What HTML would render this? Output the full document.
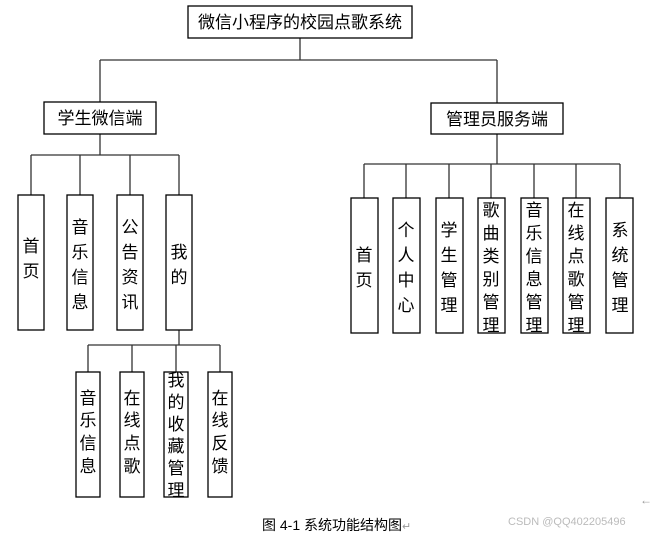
<!DOCTYPE html>
<html><head><meta charset="utf-8"><style>
body{margin:0;background:#fff;}
svg text{font-family:"Liberation Sans","Noto Sans CJK SC",sans-serif;fill:#000;}
</style></head><body>
<svg width="650" height="535" xmlns="http://www.w3.org/2000/svg">
<g stroke="#333" stroke-width="1.3" fill="none">
<line x1="300" y1="38" x2="300" y2="60"/>
<line x1="100" y1="60" x2="497" y2="60"/>
<line x1="100" y1="60" x2="100" y2="102"/>
<line x1="497" y1="60" x2="497" y2="103"/>
<line x1="100" y1="134" x2="100" y2="155"/>
<line x1="31" y1="155" x2="179" y2="155"/>
<line x1="31" y1="155" x2="31" y2="195"/>
<line x1="80" y1="155" x2="80" y2="195"/>
<line x1="130" y1="155" x2="130" y2="195"/>
<line x1="179" y1="155" x2="179" y2="195"/>
<line x1="497" y1="134" x2="497" y2="164"/>
<line x1="364" y1="164" x2="620" y2="164"/>
<line x1="364" y1="164" x2="364" y2="198"/>
<line x1="406" y1="164" x2="406" y2="198"/>
<line x1="449" y1="164" x2="449" y2="198"/>
<line x1="491" y1="164" x2="491" y2="198"/>
<line x1="534" y1="164" x2="534" y2="198"/>
<line x1="576" y1="164" x2="576" y2="198"/>
<line x1="620" y1="164" x2="620" y2="198"/>
<line x1="179" y1="330" x2="179" y2="345"/>
<line x1="88" y1="345" x2="220" y2="345"/>
<line x1="88" y1="345" x2="88" y2="372"/>
<line x1="132" y1="345" x2="132" y2="372"/>
<line x1="176" y1="345" x2="176" y2="372"/>
<line x1="220" y1="345" x2="220" y2="372"/>
</g>
<g stroke="#000" stroke-width="1.3" fill="#fff">
<rect x="188" y="6" width="224" height="32"/>
<rect x="44" y="102" width="112" height="32"/>
<rect x="431" y="103" width="132" height="31"/>
<rect x="18" y="195" width="26" height="135"/>
<rect x="67" y="195" width="26" height="135"/>
<rect x="117" y="195" width="26" height="135"/>
<rect x="166" y="195" width="26" height="135"/>
<rect x="351" y="198" width="27" height="135"/>
<rect x="393" y="198" width="27" height="135"/>
<rect x="436" y="198" width="27" height="135"/>
<rect x="478" y="198" width="27" height="135"/>
<rect x="521" y="198" width="27" height="135"/>
<rect x="563" y="198" width="27" height="135"/>
<rect x="606" y="198" width="27" height="135"/>
<rect x="76" y="372" width="24" height="125"/>
<rect x="120" y="372" width="24" height="125"/>
<rect x="164" y="372" width="24" height="125"/>
<rect x="208" y="372" width="24" height="125"/>
</g>
<g font-size="17" text-anchor="middle">
<text x="300" y="28">微信小程序的校园点歌系统</text>
<text x="100" y="124">学生微信端</text>
<text x="497" y="125">管理员服务端</text>
</g>
<g font-size="17" text-anchor="middle">
<text x="31" y="252">首</text><text x="31" y="277">页</text>
<text x="80" y="233">音</text><text x="80" y="258">乐</text><text x="80" y="283">信</text><text x="80" y="308">息</text>
<text x="130" y="233">公</text><text x="130" y="258">告</text><text x="130" y="283">资</text><text x="130" y="308">讯</text>
<text x="179" y="258">我</text><text x="179" y="283">的</text>
<text x="364" y="261">首</text><text x="364" y="286">页</text>
<text x="406" y="236">个</text><text x="406" y="261">人</text><text x="406" y="286">中</text><text x="406" y="311">心</text>
<text x="449" y="236">学</text><text x="449" y="261">生</text><text x="449" y="286">管</text><text x="449" y="311">理</text>
<text x="491" y="216">歌</text><text x="491" y="239">曲</text><text x="491" y="262">类</text><text x="491" y="285">别</text><text x="491" y="308">管</text><text x="491" y="331">理</text>
<text x="534" y="216">音</text><text x="534" y="239">乐</text><text x="534" y="262">信</text><text x="534" y="285">息</text><text x="534" y="308">管</text><text x="534" y="331">理</text>
<text x="576" y="216">在</text><text x="576" y="239">线</text><text x="576" y="262">点</text><text x="576" y="285">歌</text><text x="576" y="308">管</text><text x="576" y="331">理</text>
<text x="620" y="236">系</text><text x="620" y="261">统</text><text x="620" y="286">管</text><text x="620" y="311">理</text>
<text x="88" y="404">音</text><text x="88" y="426">乐</text><text x="88" y="449">信</text><text x="88" y="472">息</text>
<text x="132" y="404">在</text><text x="132" y="426">线</text><text x="132" y="449">点</text><text x="132" y="472">歌</text>
<text x="176" y="386">我</text><text x="176" y="408">的</text><text x="176" y="430">收</text><text x="176" y="452">藏</text><text x="176" y="474">管</text><text x="176" y="496">理</text>
<text x="220" y="404">在</text><text x="220" y="426">线</text><text x="220" y="449">反</text><text x="220" y="472">馈</text>
</g>
<text x="262" y="530" font-size="14">图 4-1 系统功能结构图<tspan fill="#999" font-size="11">↵</tspan></text>
<text x="508" y="525" font-size="11" fill="#bbb" style="fill:#bbb">CSDN @QQ402205496</text>
<text x="640" y="504" font-size="12" style="fill:#999">←</text>
</svg>
</body></html>
